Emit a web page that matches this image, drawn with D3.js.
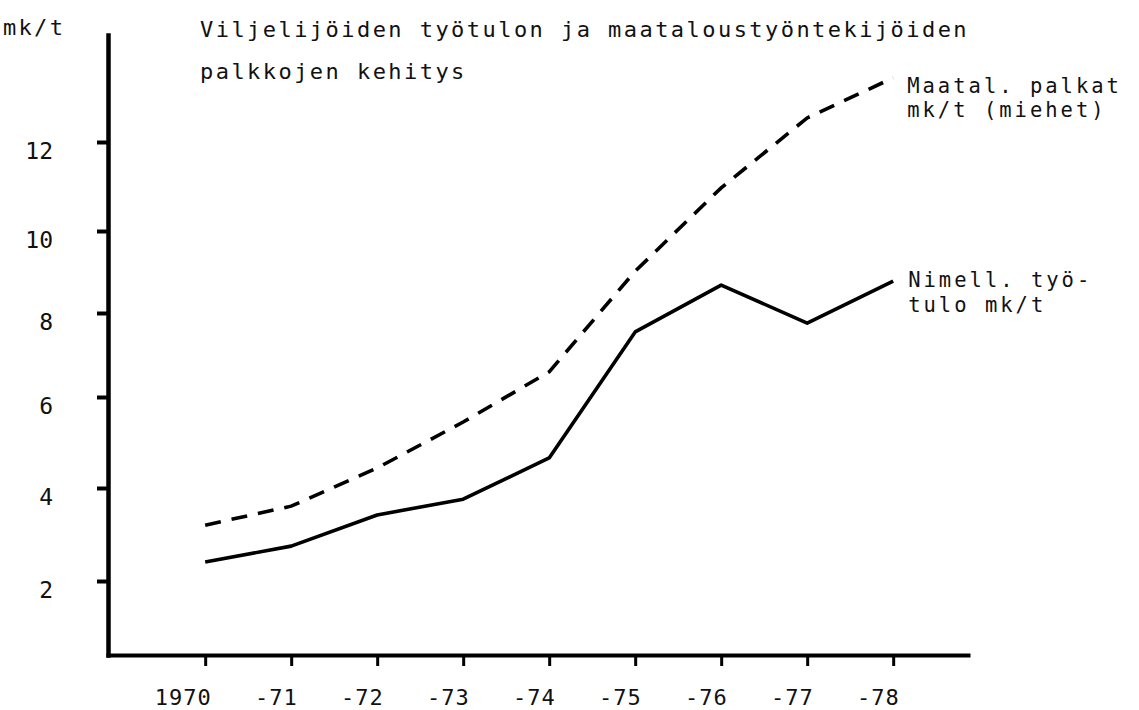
<!DOCTYPE html>
<html>
<head>
<meta charset="utf-8">
<script src="https://cdn.jsdelivr.net/npm/d3@7/dist/d3.min.js"></script>
<style>
  body { margin: 0; background: #fff; }
  text { font-family: "DejaVu Sans Mono", monospace; fill: #111; }
</style>
</head>
<body>
<div id="chart"></div>
<script>
// years on x, mk/t on y
const years = [1970, 1971, 1972, 1973, 1974, 1975, 1976, 1977, 1978];
const yearLabels = ["1970", "-71", "-72", "-73", "-74", "-75", "-76", "-77", "-78"];
// nimellinen työtulo mk/t (solid)
const tyotulo = [2.41, 2.75, 3.42, 3.76, 4.66, 7.55, 8.68, 7.76, 8.78];
// maatal. palkat mk/t, miehet (dashed)
const palkat = [3.20, 3.61, 4.44, 5.45, 6.60, 9.02, 10.97, 12.54, 13.44];
const yTicks = [2, 4, 6, 8, 10, 12];
const yUnit = "mk/t";
const titleLines = ["Viljelijöiden työtulon ja maataloustyöntekijöiden", "palkkojen kehitys"];
const palkatLabel = ["Maatal. palkat", "mk/t (miehet)"];
const tyotuloLabel = ["Nimell. työ-", "tulo mk/t"];

chartMaker();

function chartMaker() {
  const width = 1139;
  const height = 710;

  const svg = d3.select("#chart")
    .append("svg")
    .attr("width", width)
    .attr("height", height);

  const xScale = d3.scaleLinear()
    .domain([1968.87, 1978.87])
    .range([108, 968]);

  // hand drawn scale, the tick spacing is not quite even
  const yScale = d3.scaleLinear()
    .domain([0.4].concat(yTicks, [14.4]))
    .range([655, 581, 488, 397, 313, 231, 142, 35]);

  const xAxis = d3.axisBottom(xScale)
    .tickValues(years)
    .tickFormat((d, i) => yearLabels[i])
    .tickSize(11)
    .tickSizeOuter(0);

  const yAxis = d3.axisLeft(yScale)
    .tickValues(yTicks)
    .tickFormat(d3.format("d"))
    .tickSize(11)
    .tickSizeOuter(0);

  const gx = svg.append("g")
    .attr("id", "x-axis")
    .attr("transform", `translate(0,${yScale(0.4)})`)
    .call(xAxis);
  gx.select(".domain").attr("stroke", "#000").attr("stroke-width", 4);
  gx.selectAll(".tick line").attr("stroke", "#000").attr("stroke-width", 3);
  gx.selectAll(".tick text")
    .attr("y", 50)
    .attr("dy", 0)
    .attr("dx", 6)
    .style("text-anchor", "end")
    .style("font-size", "22px")
    .style("letter-spacing", "1px");

  const gy = svg.append("g")
    .attr("id", "y-axis")
    .attr("transform", `translate(${xScale(1968.87)},0)`)
    .call(yAxis);
  gy.select(".domain").attr("stroke", "#000").attr("stroke-width", 4.5);
  gy.selectAll(".tick line").attr("stroke", "#000").attr("stroke-width", 4);
  gy.selectAll(".tick text")
    .attr("x", -55)
    .attr("y", 16)
    .attr("dy", 0)
    .style("font-size", "23px");

  svg.selectAll(".domain").attr("stroke-linecap", "square");

  // unit + title
  svg.append("text")
    .attr("x", 3)
    .attr("y", 35)
    .style("font-size", "22px")
    .style("letter-spacing", "2.3px")
    .text(yUnit);

  svg.append("g")
    .selectAll("text")
    .data(titleLines)
    .enter()
    .append("text")
    .attr("x", 200)
    .attr("y", (d, i) => 37 + i * 42)
    .style("font-size", "22px")
    .style("letter-spacing", "2.45px")
    .text(d => d);

  const line = d3.line()
    .x((d, i) => xScale(years[i]))
    .y(d => yScale(d));

  svg.append("path")
    .datum(palkat)
    .attr("d", line)
    .attr("fill", "none")
    .attr("stroke", "#000")
    .attr("stroke-width", 3.6)
    .attr("stroke-dasharray", "16,11");

  svg.append("path")
    .datum(tyotulo)
    .attr("d", line)
    .attr("fill", "none")
    .attr("stroke", "#000")
    .attr("stroke-width", 3.6)
    .attr("stroke-linejoin", "round");

  // labels at the line ends
  const lastX = xScale(years[years.length - 1]);
  svg.append("g")
    .selectAll("text")
    .data(palkatLabel)
    .enter()
    .append("text")
    .attr("x", lastX + 14)
    .attr("y", (d, i) => yScale(palkat[palkat.length - 1]) + 15 + i * 24)
    .style("font-size", "20.5px")
    .style("letter-spacing", "3px")
    .text(d => d);

  svg.append("g")
    .selectAll("text")
    .data(tyotuloLabel)
    .enter()
    .append("text")
    .attr("x", lastX + 15)
    .attr("y", (d, i) => yScale(tyotulo[tyotulo.length - 1]) + 6 + i * 25)
    .style("font-size", "20.5px")
    .style("letter-spacing", "3px")
    .text(d => d);
}
</script>
</body>
</html>
